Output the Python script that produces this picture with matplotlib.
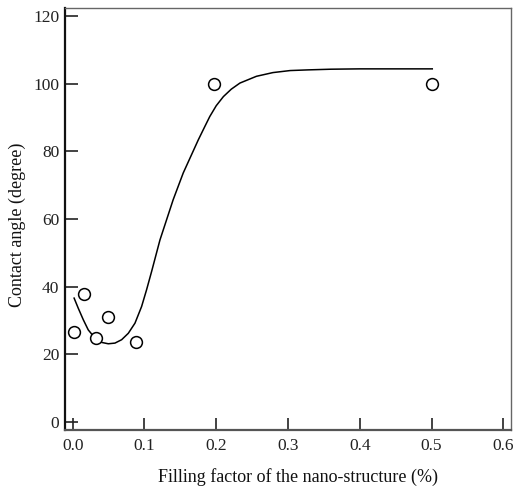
import matplotlib
matplotlib.use("Agg")
import matplotlib.pyplot as plt

# measured data points
x_pts = [0.002, 0.0157, 0.033, 0.0496, 0.088, 0.197, 0.501]
y_pts = [26.5, 37.9, 24.8, 31.0, 23.5, 99.9, 100.0]

# fitted curve
x_fit = [0.002, 0.0078, 0.0148, 0.0217, 0.031, 0.0404, 0.0496, 0.0589, 0.0682,
         0.0775, 0.0868, 0.096, 0.103, 0.110, 0.1216, 0.140, 0.154, 0.175,
         0.184, 0.191, 0.200, 0.210, 0.221, 0.233, 0.256, 0.279, 0.303, 0.328,
         0.360, 0.400, 0.450, 0.501]
y_fit = [36.6, 33.6, 30.2, 27.2, 24.8, 23.5, 23.1, 23.3, 24.3,
         26.2, 29.2, 34.1, 39.1, 44.5, 53.8, 65.7, 73.6, 83.4,
         87.3, 90.3, 93.5, 96.2, 98.4, 100.2, 102.2, 103.3, 103.9, 104.1,
         104.3, 104.4, 104.4, 104.4]

x_ticks = [0.0, 0.1, 0.2, 0.3, 0.4, 0.5, 0.6]
x_tick_labels = ["0.0", "0.1", "0.2", "0.3", "0.4", "0.5", "0.6"]
y_ticks = [0, 20, 40, 60, 80, 100, 120]

plt.rcParams['font.family'] = ['Liberation Serif', 'DejaVu Serif']

fig = plt.figure(figsize=(5.13, 4.88), dpi=100)
ax = fig.add_axes([65/513, 1 - 430/488, (511-65)/513, (430-8)/488])

ax.plot(x_fit, y_fit, color='black', lw=1.1)
ax.plot(x_pts, y_pts, linestyle='none', marker='o', markersize=8.5,
        markerfacecolor='white', markeredgecolor='black', markeredgewidth=1.1)

ax.set_xlim(-0.0107, 0.6107)
ax.set_ylim(-2.4, 122.4)
ax.set_xticks(x_ticks)
ax.set_xticklabels(x_tick_labels)
ax.set_yticks(y_ticks)

ax.tick_params(axis='both', direction='in', length=9, width=1.2, labelsize=12.5,
               colors='#222222')
ax.tick_params(axis='x', pad=6)
ax.tick_params(axis='y', pad=4)

ax.spines['left'].set_linewidth(1.6)
ax.spines['left'].set_color('#111111')
ax.spines['bottom'].set_linewidth(1.6)
ax.spines['bottom'].set_color('#555555')
ax.spines['top'].set_linewidth(1.0)
ax.spines['top'].set_color('#666666')
ax.spines['right'].set_linewidth(1.0)
ax.spines['right'].set_color('#666666')

ax.set_xlabel("Filling factor of the nano-structure (%)", fontsize=13, color='#111111')
ax.xaxis.set_label_coords(298/513, 1 - 477/488, transform=fig.transFigure)
ax.xaxis.label.set_va('center')
ax.set_ylabel("Contact angle (degree)", fontsize=13, color='#111111')
ax.yaxis.set_label_coords(17/513, 1 - 225/488, transform=fig.transFigure)
ax.yaxis.label.set_va('center')

fig.savefig("out.png", dpi=100)
